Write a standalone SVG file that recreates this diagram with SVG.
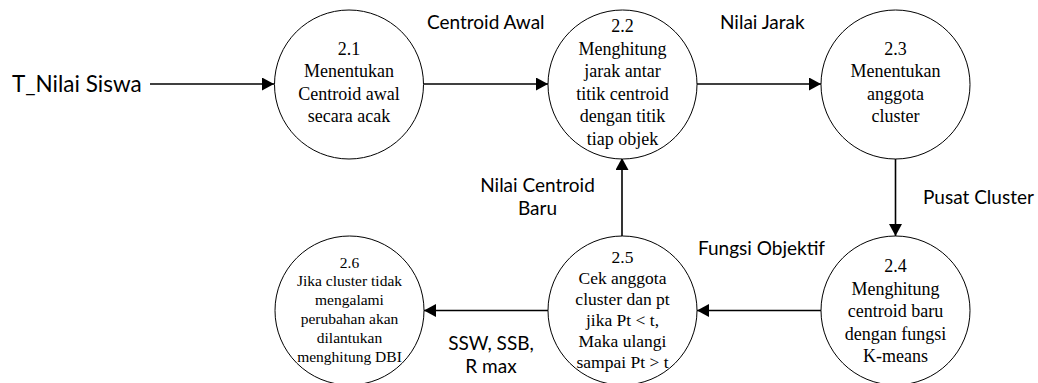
<svg xmlns="http://www.w3.org/2000/svg" width="1038" height="383" viewBox="0 0 1038 383">
  <style>
    .proc { fill: #ffffff; stroke: #000000; stroke-width: 1; }
    .ptxt { font-family: "Liberation Serif", "Times New Roman", serif; font-size: 18px; fill: #000; text-anchor: middle; }
    .small { font-size: 17.5px; }
    .tiny { font-size: 15.5px; }
    .flow { stroke: #000000; stroke-width: 1.6; fill: none; marker-end: url(#head); }
    .lbl { font-family: "Lato", "Open Sans", sans-serif; font-size: 19px; fill: #000; }
    .mid { text-anchor: middle; }
  </style>
  <defs>
    <marker id="head" viewBox="0 0 12 12" refX="12" refY="6" markerWidth="12" markerHeight="13" markerUnits="userSpaceOnUse" orient="auto" preserveAspectRatio="none">
      <path d="M0,0 L12,6 L0,12 Z" fill="#000"/>
    </marker>
  </defs>

  <rect width="1038" height="383" fill="#ffffff"/>

  <!-- data flows -->
  <g id="connectors">
    <line class="flow" x1="150" y1="84" x2="274" y2="84"/>
    <line class="flow" x1="424" y1="84" x2="548" y2="84"/>
    <line class="flow" x1="697" y1="84" x2="821" y2="84"/>
    <line class="flow" x1="895.5" y1="158" x2="895.5" y2="236"/>
    <line class="flow" x1="821" y1="310.5" x2="697" y2="310.5"/>
    <line class="flow" x1="622" y1="236" x2="622" y2="158"/>
    <line class="flow" x1="548" y1="310.5" x2="424" y2="310.5"/>
  </g>

  <!-- flow labels -->
  <g id="labels">
    <text class="lbl" x="12" y="92" style="font-size:22.5px">T_Nilai Siswa</text>
    <text class="lbl" x="427" y="29">Centroid Awal</text>
    <text class="lbl" x="720" y="29">Nilai Jarak</text>
    <text class="lbl mid" x="537.5" y="192">Nilai Centroid</text>
    <text class="lbl mid" x="537.5" y="215">Baru</text>
    <text class="lbl" x="923" y="204">Pusat Cluster</text>
    <text class="lbl" x="698" y="255">Fungsi Objektif</text>
    <text class="lbl mid" x="491" y="350">SSW, SSB,</text>
    <text class="lbl mid" x="491" y="373">R max</text>
  </g>

  <!-- processes -->
  <g id="p21">
    <circle class="proc" cx="349" cy="84.5" r="74.5"/>
    <text class="ptxt" x="349" y="55">2.1</text>
    <text class="ptxt" x="349" y="77">Menentukan</text>
    <text class="ptxt" x="349" y="100">Centroid awal</text>
    <text class="ptxt" x="349" y="122">secara acak</text>
  </g>
  <g id="p22">
    <circle class="proc" cx="622.5" cy="84.5" r="74.5"/>
    <text class="ptxt" x="622.5" y="32">2.2</text>
    <text class="ptxt" x="622.5" y="55">Menghitung</text>
    <text class="ptxt" x="622.5" y="77">jarak antar</text>
    <text class="ptxt" x="622.5" y="100">titik centroid</text>
    <text class="ptxt" x="622.5" y="122">dengan titik</text>
    <text class="ptxt" x="622.5" y="145">tiap objek</text>
  </g>
  <g id="p23">
    <circle class="proc" cx="895.5" cy="84.5" r="74.5"/>
    <text class="ptxt" x="895.5" y="55">2.3</text>
    <text class="ptxt" x="895.5" y="77">Menentukan</text>
    <text class="ptxt" x="895.5" y="100">anggota</text>
    <text class="ptxt" x="895.5" y="122">cluster</text>
  </g>
  <g id="p24">
    <circle class="proc" cx="895.5" cy="310.5" r="74.5"/>
    <text class="ptxt" x="895.5" y="272">2.4</text>
    <text class="ptxt" x="895.5" y="295">Menghitung</text>
    <text class="ptxt" x="895.5" y="317">centroid baru</text>
    <text class="ptxt" x="895.5" y="340">dengan fungsi</text>
    <text class="ptxt" x="895.5" y="362">K-means</text>
  </g>
  <g id="p25">
    <circle class="proc" cx="622.5" cy="310.5" r="74.5"/>
    <text class="ptxt small" x="622.5" y="263">2.5</text>
    <text class="ptxt small" x="622.5" y="284">Cek anggota</text>
    <text class="ptxt small" x="622.5" y="305">cluster dan pt</text>
    <text class="ptxt small" x="622.5" y="326">jika Pt &lt; t,</text>
    <text class="ptxt small" x="622.5" y="347">Maka ulangi</text>
    <text class="ptxt small" x="622.5" y="368">sampai Pt &gt; t</text>
  </g>
  <g id="p26">
    <circle class="proc" cx="349.5" cy="310.5" r="74.5"/>
    <text class="ptxt tiny" x="349.5" y="268">2.6</text>
    <text class="ptxt tiny" x="349.5" y="286">Jika cluster tidak</text>
    <text class="ptxt tiny" x="349.5" y="305">mengalami</text>
    <text class="ptxt tiny" x="349.5" y="324">perubahan akan</text>
    <text class="ptxt tiny" x="349.5" y="343">dilantukan</text>
    <text class="ptxt tiny" x="349.5" y="362">menghitung DBI</text>
  </g>
</svg>
